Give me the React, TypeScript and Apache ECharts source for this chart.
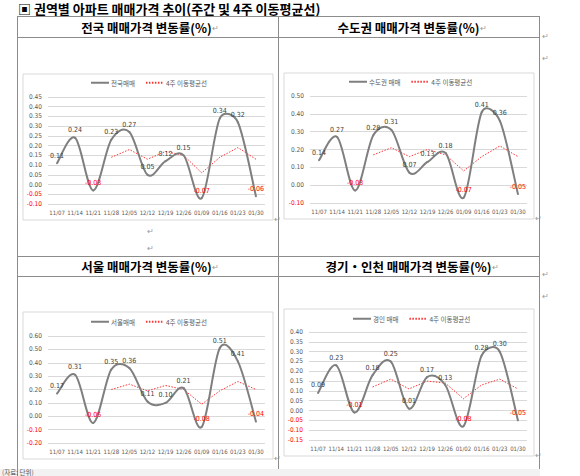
import React, { useEffect, useRef } from "react";
import * as echarts from "echarts";

// ---------- data ----------
const datesA = ["11/07", "11/14", "11/21", "11/28", "12/05", "12/12", "12/19", "12/26", "01/09", "01/16", "01/23", "01/30"];
const datesB = ["11/07", "11/14", "11/21", "11/28", "12/05", "12/12", "12/19", "12/26", "01/02", "01/16", "01/23", "01/30"];

const nationWeekly = [0.11, 0.24, -0.03, 0.23, 0.27, 0.05, 0.12, 0.15, -0.07, 0.34, 0.32, -0.06];
const nationMA4 = [null, null, null, 0.14, 0.18, 0.13, 0.17, 0.15, 0.06, 0.14, 0.19, 0.13];

const capitalWeekly = [0.14, 0.27, -0.03, 0.28, 0.31, 0.07, 0.13, 0.18, -0.07, 0.41, 0.36, -0.05];
const capitalMA4 = [null, null, null, 0.17, 0.21, 0.16, 0.2, 0.17, 0.08, 0.16, 0.22, 0.16];

const seoulWeekly = [0.17, 0.31, -0.05, 0.35, 0.36, 0.11, 0.1, 0.21, -0.08, 0.51, 0.41, -0.04];
const seoulMA4 = [null, null, null, 0.2, 0.24, 0.19, 0.23, 0.2, 0.09, 0.19, 0.26, 0.2];

const gyeonginWeekly = [0.09, 0.23, -0.01, 0.18, 0.25, 0.01, 0.17, 0.13, -0.08, 0.28, 0.3, -0.05];
const gyeonginMA4 = [null, null, null, 0.12, 0.16, 0.11, 0.15, 0.14, 0.06, 0.13, 0.16, 0.11];

const panelTitles = ["전국 매매가격 변동률(%)", "수도권 매매가격 변동률(%)", "서울 매매가격 변동률(%)", "경기・인천 매매가격 변동률(%)"];
const weeklyNames = ["전국매매", "수도권 매매", "서울매매", "경인 매매"];
const maName = "4주 이동평균선";
const docTitle = "▣ 권역별 아파트 매매가격 추이(주간 및 4주 이동평균선)";
const footNote = "(자료: 단위)";

const yMins = [-0.1, -0.1, -0.2, -0.15];
const yMaxs = [0.45, 0.5, 0.6, 0.4];
const yIntervals = [0.05, 0.1, 0.1, 0.05];

// ---------- layout / style ----------
const panels = [
  { cats: datesA, weekly: nationWeekly, ma: nationMA4, grid: { left: 48, top: 97, width: 217, height: 107 }, legend: { left: 90, y: 83 }, box: [23, 74, 250, 146], titleX: 150, titleY: 27 },
  { cats: datesA, weekly: capitalWeekly, ma: capitalMA4, grid: { left: 310, top: 96, width: 217, height: 107 }, legend: { left: 348, y: 82 }, box: [284, 73, 250, 146], titleX: 412, titleY: 27 },
  { cats: datesA, weekly: seoulWeekly, ma: seoulMA4, grid: { left: 48, top: 336, width: 217, height: 107 }, legend: { left: 90, y: 322 }, box: [23, 312, 250, 147], titleX: 150, titleY: 266 },
  { cats: datesB, weekly: gyeonginWeekly, ma: gyeonginMA4, grid: { left: 309, top: 332, width: 218, height: 108 }, legend: { left: 352, y: 319 }, box: [284, 309, 250, 147], titleX: 412, titleY: 266 },
];

const RED = "#ff0000";
const GREY_TXT = "#595959";
const LABEL_TXT = "#404040";
const CURVE = "#7f7f7f";
const NUM_FONT = "'Liberation Sans Narrow', 'DejaVu Sans Condensed', 'Liberation Sans', Arial, sans-serif";
const KR_FONT = "'Noto Sans CJK KR', 'Liberation Sans', sans-serif";
const TABLE_LINE = "#8c8c8c";

// Excel-like smoothed curve drawn segment by segment through the axes' coordinates
function curveRenderItem(params: any, api: any) {
  const i = params.dataIndexInside;
  const n = params.dataInsideLength;
  if (i >= n - 1) return null;
  const pt = (k: number) => {
    const kk = Math.max(0, Math.min(n - 1, k));
    return api.coord([api.value(0, kk), api.value(1, kk)]);
  };
  const p0 = pt(i - 1);
  const p1 = pt(i);
  const p2 = pt(i + 1);
  const p3 = pt(i + 2);
  const seg = Math.hypot(p2[0] - p1[0], p2[1] - p1[1]);
  const lim = (vx: number, vy: number) => {
    const L = Math.hypot(vx, vy);
    const m = 0.5 * seg;
    return L > m && L > 0 ? [(vx * m) / L, (vy * m) / L] : [vx, vy];
  };
  const v1 = lim((p2[0] - p0[0]) / 6, (p2[1] - p0[1]) / 6);
  const v2 = lim((p3[0] - p1[0]) / 6, (p3[1] - p1[1]) / 6);
  const c1 = [p1[0] + v1[0], p1[1] + v1[1]];
  const c2 = [p2[0] - v2[0], p2[1] - v2[1]];
  return {
    type: "path",
    silent: true,
    shape: {
      pathData: `M${p1[0]} ${p1[1]}C${c1[0]} ${c1[1]} ${c2[0]} ${c2[1]} ${p2[0]} ${p2[1]}`,
    },
    style: { stroke: CURVE, lineWidth: 2, fill: "none", lineCap: "round" },
  };
}

function buildOption() {
  const grids: any[] = [];
  const xAxes: any[] = [];
  const yAxes: any[] = [];
  const series: any[] = [];
  const legends: any[] = [];
  const graphics: any[] = [];

  panels.forEach((p, i) => {
    grids.push({ ...p.grid, containLabel: false });
    xAxes.push({
      type: "category",
      gridIndex: i,
      data: p.cats,
      boundaryGap: true,
      axisLine: { show: false },
      axisTick: { show: false },
      axisLabel: { color: GREY_TXT, fontSize: 6, fontFamily: NUM_FONT, margin: 5, interval: 0 },
      splitLine: { show: false },
    });
    yAxes.push({
      type: "value",
      gridIndex: i,
      min: yMins[i],
      max: yMaxs[i],
      interval: yIntervals[i],
      axisLine: { show: false },
      axisTick: { show: false },
      axisLabel: {
        fontSize: 6.5,
        fontFamily: NUM_FONT,
        margin: 6,
        formatter: (v: number) => Number(v).toFixed(2),
        color: (v: any) => (parseFloat(v) < -1e-9 ? RED : GREY_TXT),
      },
      splitLine: { show: true, lineStyle: { color: "#d9d9d9", width: 1 } },
    });
    // smoothed curve
    series.push({
      type: "custom",
      name: weeklyNames[i] + " ",
      xAxisIndex: i,
      yAxisIndex: i,
      clip: false,
      renderItem: curveRenderItem,
      encode: { x: 0, y: 1 },
      data: p.weekly.map((v, k) => [k, v]),
      z: 3,
      silent: true,
    });
    // weekly values: labels + legend entry
    series.push({
      type: "line",
      name: weeklyNames[i],
      xAxisIndex: i,
      yAxisIndex: i,
      symbol: "circle",
      symbolSize: 0,
      showSymbol: true,
      lineStyle: { color: CURVE, width: 2, opacity: 0 },
      itemStyle: { color: CURVE },
      data: p.weekly.map((v) => ({ value: v, label: { color: v < 0 ? RED : LABEL_TXT } })),
      label: {
        show: true,
        position: "top",
        distance: 4,
        fontSize: 7,
        fontFamily: NUM_FONT,
        formatter: (d: any) => Number(d.value).toFixed(2),
      },
      z: 4,
    });
    series.push({
      type: "line",
      name: maName,
      xAxisIndex: i,
      yAxisIndex: i,
      smooth: false,
      symbol: "none",
      connectNulls: false,
      lineStyle: { color: "#ff3333", width: 1, type: [1.5, 1.5] },
      itemStyle: { color: "#ff3333" },
      data: p.ma.map((v) => (v === null ? "-" : v)),
      z: 2,
    });
    legends.push({
      left: p.legend.left,
      top: p.legend.y - 3.5,
      padding: 0,
      itemWidth: 18,
      itemHeight: 7,
      itemGap: 10,
      selectedMode: false,
      itemStyle: { opacity: 0 },
      lineStyle: { opacity: 1 },
      textStyle: { color: GREY_TXT, fontSize: 6.5, fontFamily: KR_FONT, padding: [0, 0, 0, -3] },
      data: [weeklyNames[i], maName],
    });
    const [bx, by, bw, bh] = p.box;
    graphics.push({
      type: "rect",
      shape: { x: bx, y: by, width: bw, height: bh },
      style: { fill: "transparent", stroke: "#d9d9d9", lineWidth: 1 },
      z: -1,
    });
    graphics.push({
      type: "text",
      x: p.titleX,
      y: p.titleY,
      style: {
        text: `{t|${panelTitles[i]}}{m|↵}`,
        rich: {
          t: { fill: "#000", font: `bold 12.5px ${KR_FONT}` },
          m: { fill: "#9a9a9a", font: `8px ${KR_FONT}` },
        },
        textAlign: "center",
        textVerticalAlign: "middle",
      },
    });
    graphics.push({
      type: "text",
      x: bx + bw + 1,
      y: by + bh - 2,
      style: { text: "↵", fill: "#9a9a9a", font: `8px ${KR_FONT}`, textVerticalAlign: "middle" },
    });
  });

  // document table lines
  const hLine = (x1: number, x2: number, y: number) => ({
    type: "line",
    shape: { x1, y1: y, x2, y2: y },
    style: { stroke: TABLE_LINE, lineWidth: 1 },
  });
  const vLine = (x: number, y1: number, y2: number) => ({
    type: "line",
    shape: { x1: x, y1, x2: x, y2 },
    style: { stroke: TABLE_LINE, lineWidth: 1 },
  });
  graphics.push(
    { type: "rect", shape: { x: 0, y: 469, width: 540, height: 7 }, style: { fill: "#f2f2f2" }, z: -2 },
    hLine(17, 540, 16.5),
    hLine(17, 540, 37.5),
    hLine(17, 540, 256.5),
    hLine(17, 540, 276.5),
    vLine(17.5, 16, 476),
    vLine(278.5, 16, 469),
    vLine(539.5, 16, 469),
    {
      type: "text",
      x: 18,
      y: 8,
      style: { text: docTitle, fill: "#000", font: `bold 13px ${KR_FONT}`, textVerticalAlign: "middle" },
    },
    {
      type: "text",
      x: 2,
      y: 472,
      style: { text: footNote, fill: "#555", font: `6.5px ${KR_FONT}`, textVerticalAlign: "middle" },
    }
  );
  const marks = [
    [147, 230], [147, 247], [542, 35], [542, 57], [542, 273], [542, 295],
  ];
  marks.forEach(([x, y]) =>
    graphics.push({
      type: "text",
      x,
      y,
      style: { text: "↵", fill: "#9a9a9a", font: `8px ${KR_FONT}`, textVerticalAlign: "middle" },
    })
  );

  return {
    animation: false,
    backgroundColor: "#ffffff",
    grid: grids,
    xAxis: xAxes,
    yAxis: yAxes,
    legend: legends,
    series,
    graphic: { elements: graphics },
  };
}

export default function App() {
  const ref = useRef<HTMLDivElement>(null);
  useEffect(() => {
    if (!ref.current) return;
    const chart = echarts.init(ref.current, undefined, { renderer: "svg" });
    chart.setOption(buildOption() as any);
    return () => chart.dispose();
  }, []);
  return (
    <div
      ref={ref}
      style={{ position: "fixed", left: 0, top: 0, width: 580, height: 476, background: "#fff" }}
    />
  );
}
